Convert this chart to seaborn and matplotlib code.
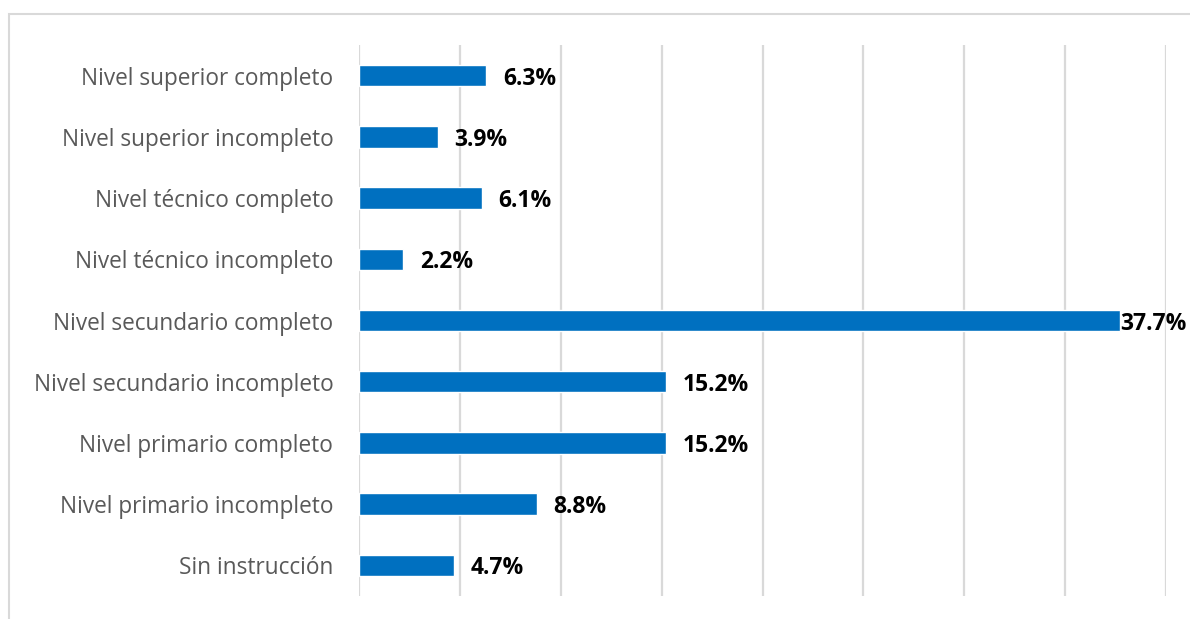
import matplotlib
matplotlib.use("Agg")
import matplotlib.pyplot as plt
import seaborn as sns
import pandas as pd
from matplotlib.patches import Rectangle

categories = [
    "Nivel superior completo",
    "Nivel superior incompleto",
    "Nivel técnico completo",
    "Nivel técnico incompleto",
    "Nivel secundario completo",
    "Nivel secundario incompleto",
    "Nivel primario completo",
    "Nivel primario incompleto",
    "Sin instrucción",
]
values = [6.3, 3.9, 6.1, 2.2, 37.7, 15.2, 15.2, 8.8, 4.7]

sns.set_style("white")
plt.rcParams["font.family"] = ["Open Sans", "DejaVu Sans"]

df = pd.DataFrame({"cat": categories, "val": values})

fig = plt.figure(figsize=(11.9, 6.19), dpi=100)
ax = fig.add_axes([359 / 1190, 1 - 596 / 619, (1166 - 359) / 1190, (596 - 45) / 619])

sns.barplot(data=df, x="val", y="cat", orient="h", color="#0070C0",
            width=0.35, saturation=1, ax=ax, zorder=3)

ax.set_xlim(0, 40)
ax.set_ylim(8.5, -0.5)
ax.set_xticks(range(0, 45, 5))
ax.tick_params(axis="x", length=0, labelbottom=False)
ax.tick_params(axis="y", length=0, pad=18.5, labelsize=16.3, labelcolor="#595959")
ax.grid(axis="x", color="#D9D9D9", linewidth=1.6, zorder=0)
ax.grid(axis="y", visible=False)
for s in ax.spines.values():
    s.set_visible(False)
ax.set_xlabel("")
ax.set_ylabel("")
for t in ax.get_yticklabels():
    t.set_va("center_baseline")

for i, v in enumerate(values):
    pad = 12 if v < 35 else 0.5
    ax.annotate(f"{v:.1f}%", xy=(v, i), xytext=(pad, 0), textcoords="offset points",
                va="center_baseline", ha="left", fontsize=16.5, fontweight="bold",
                color="black", annotation_clip=False)

fig.patches.append(Rectangle((9 / 1190, -0.1), 1.2, 1 - 14 / 619 + 0.1,
                             transform=fig.transFigure, fill=False,
                             edgecolor="#D9D9D9", linewidth=1.5, zorder=0))

fig.savefig("out.png", dpi=100)
